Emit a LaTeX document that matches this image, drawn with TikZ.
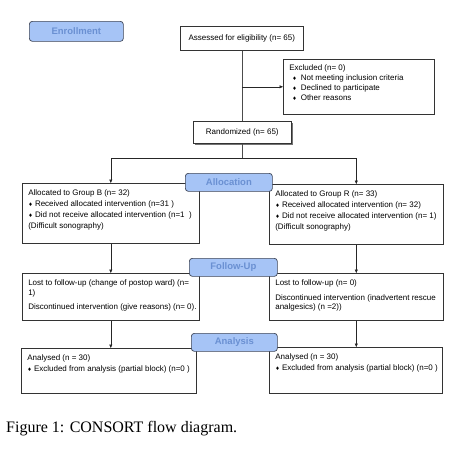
\documentclass[tikz,border=0pt]{standalone}
\usepackage{fontspec}
\setmainfont{Liberation Serif}
\newfontfamily\arialf{Liberation Sans}
\newfontfamily\symf{DejaVu Sans}
\usepackage{xcolor}
\definecolor{labFill}{HTML}{A6C4F6}
\definecolor{labText}{HTML}{6A90D2}
\definecolor{labEdge}{HTML}{3E4556}
\usepackage{tikz}
\usetikzlibrary{arrows.meta,shadows}
\newcommand{\dia}{{\symf\fontsize{5}{5}\selectfont ♦}}
\newcommand{\boxtxt}[3]{\parbox[t][#2][t]{#1}{\raggedright\leftskip=6pt\strut#3}}

\begin{document}
\begin{tikzpicture}[x=1pt,y=-1pt,
  box/.style={draw=black!80,line width=0.6pt,anchor=north west,inner xsep=0pt,inner ysep=4.5pt,fill=white,font=\arialf\fontsize{8}{11}\selectfont},
  cbox/.style={box,align=center,inner sep=0pt},
  lab/.style={draw=labEdge,line width=0.7pt,rounded corners=3pt,fill=labFill,text=labText,anchor=north west,inner sep=0pt,font=\arialf\bfseries\fontsize{9.5}{9.5}\selectfont},
  arr/.style={-{Triangle[length=3.5pt,width=3pt]},draw=black!85,line width=0.6pt},
  line/.style={draw=black!70,line width=0.6pt}
]
\useasboundingbox (0,0) rectangle (457,451);
% enrollment
\node[cbox,minimum width=123pt,minimum height=24pt] (assess) at (180,26) {Assessed for eligibility (n= 65)};
\node[box,font=\arialf\fontsize{8}{10}\selectfont] (excl) at (283,59) {\boxtxt{151pt}{46pt}{Excluded (n= 0)\\
  \hspace*{3pt}\dia\hspace{4pt}Not meeting inclusion criteria\\
  \hspace*{3pt}\dia\hspace{4pt}Declined to participate\\
  \hspace*{3pt}\dia\hspace{4pt}Other reasons}};
\node[cbox,minimum width=98pt,minimum height=22pt,drop shadow={shadow xshift=1.2pt,shadow yshift=-1.5pt,fill=black!55,opacity=1}] (rand) at (193,121) {Randomized (n= 65)};
% allocation
\node[box] (grpB) at (22,183) {\boxtxt{177pt}{51pt}{Allocated to Group B (n= 32)\\
  \dia\ Received allocated intervention (n=31 )\\
  \dia\ Did not receive allocated intervention (n=1 \ )\\
  (Difficult sonography)}};
\node[box] (grpR) at (269,184) {\boxtxt{174pt}{51pt}{Allocated to Group R (n= 33)\\
  \dia\ Received allocated intervention (n= 32)\\
  \dia\ Did not receive allocated intervention (n= 1)\\
  (Difficult sonography)}};
% follow-up
\node[box,inner ysep=6pt,font=\arialf\fontsize{8}{9.5}\selectfont] (fuB) at (22,273) {\boxtxt{177pt}{35pt}{Lost to follow-up (change of postop ward) (n=\\
  1)\\[5pt]
  Discontinued intervention (give reasons) (n= 0).}};
\node[box,inner ysep=6pt,font=\arialf\fontsize{8}{9.5}\selectfont] (fuR) at (269,273) {\boxtxt{174pt}{35pt}{Lost to follow-up (n= 0)\\[5pt]
  Discontinued intervention (inadvertent rescue\\
  analgesics) (n =2))}};
% analysis
\node[box] (anB) at (21,348) {\boxtxt{175pt}{36pt}{Analysed (n = 30)\\
  \dia\ Excluded from analysis (partial block) (n=0 )}};
\node[box] (anR) at (269,347) {\boxtxt{173pt}{37pt}{Analysed (n = 30)\\
  \dia\ Excluded from analysis (partial block) (n=0 )}};
% stage labels
\node[lab,minimum width=94pt,minimum height=20pt] (enroll) at (29,21) {Enrollment};
\node[lab,minimum width=87pt,minimum height=18pt] (alloc) at (185,173) {Allocation};
\node[lab,minimum width=88pt,minimum height=18pt] (follow) at (189,258) {Follow-Up};
\node[lab,minimum width=86pt,minimum height=18pt] (anal) at (191,333) {Analysis};
% connectors
\coordinate (branch) at (assess.south |- excl.west);
\path (rand.south) ++(0,14.5) coordinate (split);
\draw[line] (assess.south) -- (assess.south |- rand.north);
\draw[arr] (branch) -- (excl.west);
\draw[line] (rand.south) -- (split);
\draw[arr] (split) -| (grpB.north); \draw[arr] (split) -| (grpR.north);
\draw[arr] (grpB.south) -- (fuB.north); \draw[arr] (grpR.south) -- (fuR.north);
\draw[arr] (fuB.south) -- (fuB.south |- anB.north);
\draw[arr] (fuR.south) -- (fuR.south |- anR.north);
\node[anchor=base west,inner sep=0pt,font=\fontsize{16}{16}\selectfont] (caption) at (6,432) {Figure 1: CONSORT flow diagram.};
\end{tikzpicture}
\end{document}
